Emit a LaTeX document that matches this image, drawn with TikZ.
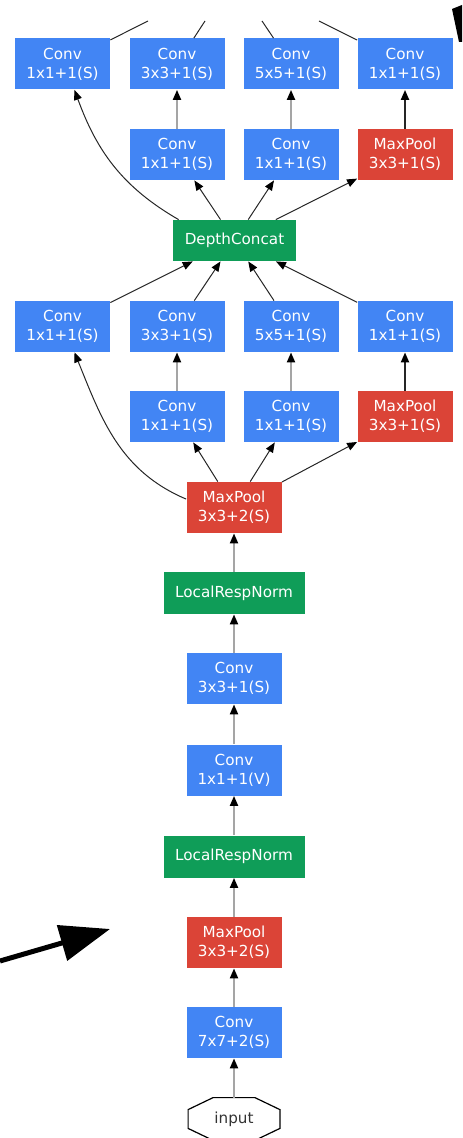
\documentclass[tikz,border=0pt]{standalone}
\usepackage{fontspec}
\setsansfont{DejaVu Sans}
\usepackage{tikz}
\usetikzlibrary{arrows.meta,calc}
\definecolor{NetBlue}{HTML}{4285F4}
\definecolor{NetRed}{HTML}{DB4437}
\definecolor{NetGreen}{HTML}{0F9D58}
\definecolor{LinkGray}{RGB}{165,165,165}
\newcommand{\layerfont}{\sffamily\fontsize{7.6}{9.5}\selectfont}

\begin{document}
\begin{tikzpicture}[x=0.5pt,y=-0.5pt,
 layer/.style={fill=#1,text=white,inner sep=0pt,minimum width=47.5pt,
 minimum height=25.5pt,align=center,font=\layerfont},
 conv/.style={layer=NetBlue},
 pool/.style={layer=NetRed},
 merge/.style={fill=NetGreen,text=white,inner sep=0pt,minimum height=20.5pt,font=\layerfont},
 link/.style={draw=black!85,line width=0.5pt,-{Triangle[length=5pt,width=4pt,black]}},
 pipe/.style={draw=LinkGray,line width=1pt,-{Triangle[length=5pt,width=4pt,black]}}]
\clip (0,0) rectangle (462,1138);

% upper inception block
\foreach \nm/\px/\txt in {ua/62.5/1x1+1(S),ub/177/3x3+1(S),uc/291/5x5+1(S),ud/405/1x1+1(S)}
 \node[conv] (\nm) at (\px,64) {Conv\\\txt};
\node[conv] (ub2) at (177,154.5) {Conv\\1x1+1(S)};
\node[conv] (uc2) at (291,154.5) {Conv\\1x1+1(S)};
\node[pool] (ud2) at (405,154.5) {MaxPool\\3x3+1(S)};
\node[merge,minimum width=61.5pt] (dc) at (234.5,240.5) {DepthConcat};

% lower inception block
\foreach \nm/\px/\txt in {la/62.5/1x1+1(S),lb/177/3x3+1(S),lc/291/5x5+1(S),ld/405/1x1+1(S)}
 \node[conv] (\nm) at (\px,326.5) {Conv\\\txt};
\node[conv] (lb2) at (177,416.5) {Conv\\1x1+1(S)};
\node[conv] (lc2) at (291,416.5) {Conv\\1x1+1(S)};
\node[pool] (ld2) at (405,416.5) {MaxPool\\3x3+1(S)};

% stem
\node[pool] (mp1) at (234,507.5) {MaxPool\\3x3+2(S)};
\node[merge,minimum width=70.5pt,minimum height=21pt] (lrn1) at (234,593) {LocalRespNorm};
\node[conv] (c3) at (234,678.5) {Conv\\3x3+1(S)};
\node[conv] (c1) at (234,770) {Conv\\1x1+1(V)};
\node[merge,minimum width=70.5pt,minimum height=21pt] (lrn2) at (234,856.5) {LocalRespNorm};
\node[pool] (mp0) at (234,942.5) {MaxPool\\3x3+2(S)};
\node[conv] (c7) at (234,1032.5) {Conv\\7x7+2(S)};
\node[inner sep=0pt,minimum width=45.5pt,minimum height=21pt,font=\layerfont,text=black!80] (inp) at (234,1119) {input};
\draw[line width=0.6pt] ($(inp.north west)+(25,0)$) -- ($(inp.north east)+(-25,0)$)
 -- ($(inp.north east)+(0,12)$) -- ($(inp.south east)+(0,-12)$)
 -- ($(inp.south east)+(-25,0)$) -- ($(inp.south west)+(25,0)$)
 -- ($(inp.south west)+(0,-12)$) -- ($(inp.north west)+(0,12)$) -- cycle;

\foreach \a/\b in {inp/c7,c7/mp0,mp0/lrn2,lrn2/c1,c1/c3,c3/lrn1,lrn1/mp1}
 \draw[pipe] (\a) -- (\b);

% lower block links
\draw[link] (mp1.170) to[out=157,in=-68] ([xshift=6pt]la.south);
\foreach \nm in {lb2,lc2,ld2}
 \draw[link] (mp1) -- (\nm);
\draw[pipe] (lb2) -- (lb);
\draw[pipe] (lc2) -- (lc);
\draw[link,line width=1pt] (ld2) -- (ld);
\foreach \nm in {la,lb,lc,ld}
 \draw[link] (\nm) -- (dc);

% upper block links
\draw[link] ([xshift=3pt]dc.north west) to[out=150,in=-70] ([xshift=6pt]ua.south);
\foreach \nm in {ub2,uc2,ud2}
 \draw[link] (dc) -- (\nm);
\draw[pipe] (ub2) -- (ub);
\draw[pipe] (uc2) -- (uc);
\draw[link,line width=1pt] (ud2) -- (ud);

% cut-off outputs
\coordinate (ta) at (148,21);
\coordinate (tb) at (205,21);
\coordinate (tc) at (262,21);
\coordinate (td) at (319,21);
\foreach \nm/\tp in {ua/ta,ub/tb,uc/tc,ud/td}
 \draw[black!85,line width=0.5pt] (\nm) -- (\tp);

% pointers
\coordinate (pa) at (0,961);
\coordinate (pb) at (110,929);
\draw[line width=2.5pt,-{Triangle[length=25pt,width=18pt]}] (pa) -- (pb);
\fill (452,9) -- (462,5) -- (462,42) -- (459,42) -- cycle;
\end{tikzpicture}
\end{document}
